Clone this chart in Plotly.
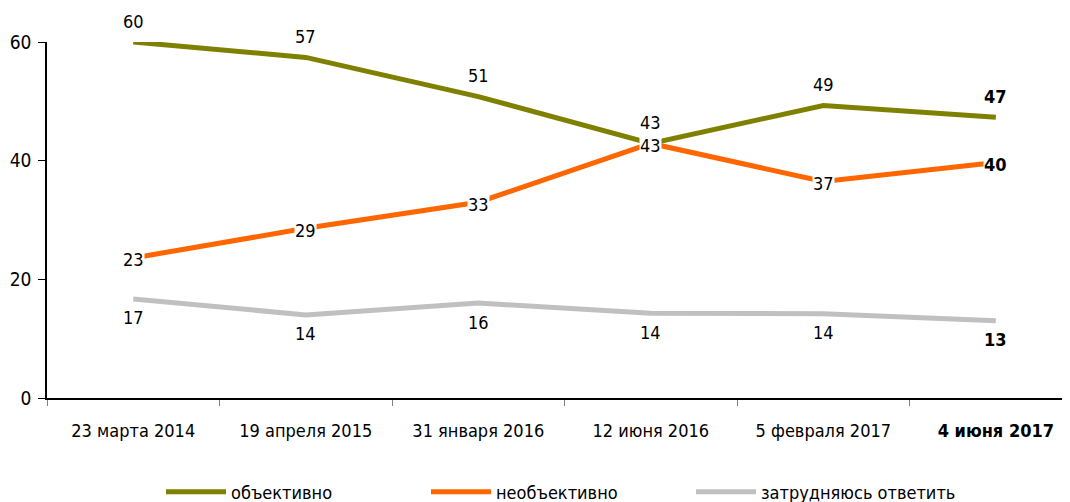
import plotly.graph_objects as go

categories = ["23 марта 2014", "19 апреля 2015", "31 января 2016", "12 июня 2016", "5 февраля 2017", "4 июня 2017"]
tick_labels = ["23 марта 2014", "19 апреля 2015", "31 января 2016", "12 июня 2016", "5 февраля 2017", "<b>4 июня 2017</b>"]
objective = [60.0, 57.4, 50.8, 42.9, 49.3, 47.3]
not_objective = [23.6, 28.6, 33.0, 42.9, 36.5, 39.7]
hard_to_say = [16.7, 14.0, 16.0, 14.3, 14.2, 13.0]
objective_labels = [60, 57, 51, 43, 49, 47]
not_objective_labels = [23, 29, 33, 43, 37, 40]
hard_to_say_labels = [17, 14, 16, 14, 14, 13]

series_names = ["объективно", "необъективно", "затрудняюсь ответить"]
colors = ["#808000", "#ff6600", "#c0c0c0"]

FONT = "DejaVu Sans Condensed, Liberation Sans Narrow, Arial Narrow, sans-serif"

fig = go.Figure()
for name, vals, col in zip(series_names, [objective, not_objective, hard_to_say], colors):
    fig.add_trace(go.Scatter(x=categories, y=vals, mode="lines", name=name,
                             line=dict(color=col, width=5), hoverinfo="skip"))


def label(i, n, last):
    s = str(n)
    return f"<b>{s}</b>" if i == last else s


annotations = []
last = len(categories) - 1
for i, (c, v, n) in enumerate(zip(categories, objective, objective_labels)):
    annotations.append(dict(x=c, y=v, text=label(i, n, last), showarrow=False, yshift=21,
                            font=dict(size=18, color="black", family=FONT)))
for i, (c, v, n) in enumerate(zip(categories, not_objective, not_objective_labels)):
    annotations.append(dict(x=c, y=v, text=label(i, n, last), showarrow=False, yshift=-2,
                            bgcolor="white", borderpad=0,
                            font=dict(size=18, color="black", family=FONT)))
for i, (c, v, n) in enumerate(zip(categories, hard_to_say, hard_to_say_labels)):
    annotations.append(dict(x=c, y=v, text=label(i, n, last), showarrow=False, yshift=-19,
                            font=dict(size=18, color="black", family=FONT)))

# the page body adds an 8px offset, so the figure is 8px smaller on each side
fig.update_layout(
    width=1062, height=494,
    margin=dict(l=39, r=0, t=34, b=104, pad=0),
    paper_bgcolor="white", plot_bgcolor="white",
    font=dict(family=FONT, size=18, color="black"),
    showlegend=True,
    legend=dict(orientation="h", x=0.5, xanchor="center",
                yref="container", y=0.02, yanchor="middle",
                font=dict(size=18, family=FONT), entrywidth=190, entrywidthmode="pixels",
                itemwidth=60, borderwidth=0),
    annotations=annotations,
    xaxis=dict(type="category", categoryorder="array", categoryarray=categories,
               tickvals=categories, ticktext=tick_labels, automargin=False,
               range=[-0.5, 5.43], showgrid=False, zeroline=False,
               showline=True, linecolor="black", linewidth=1.5,
               ticks="outside", tickson="boundaries", ticklen=6, tickcolor="#808080",
               tickfont=dict(size=18, family=FONT), ticklabelstandoff=16),
    yaxis=dict(range=[0, 60], tickvals=[0, 20, 40, 60], showgrid=False, zeroline=False,
               showline=True, linecolor="black", linewidth=1.5, automargin=False,
               ticks="outside", ticklen=7, tickcolor="black",
               tickfont=dict(size=19, family=FONT), ticklabelstandoff=3),
)

fig.write_html("out.html")
